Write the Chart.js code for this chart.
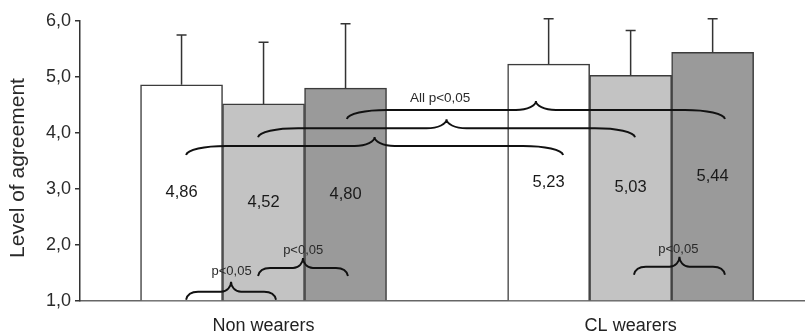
<!DOCTYPE html>
<html><head><meta charset="utf-8">
<script src="https://cdn.jsdelivr.net/npm/chart.js@4.4.0/dist/chart.umd.min.js"></script>
<style>html,body{margin:0;padding:0;background:#fff;overflow:hidden}#wrap{width:805px;height:333px;position:relative}</style>
</head><body><div id="wrap"><canvas id="c" width="805" height="333"></canvas></div>
<script>
// ---- data ----
const categories = ['Non wearers', 'CL wearers'];
const seriesA = [4.86, 5.23];
const seriesB = [4.52, 5.03];
const seriesC = [4.80, 5.44];
const errA = [0.89, 0.81];
const errB = [1.10, 0.80];
const errC = [1.15, 0.60];
const labelsA = ['4,86', '5,23'];
const labelsB = ['4,52', '5,03'];
const labelsC = ['4,80', '5,44'];
const yTicks = [1, 2, 3, 4, 5, 6];
const yTickLabels = ['1,0', '2,0', '3,0', '4,0', '5,0', '6,0'];
const yTitle = 'Level of agreement';
// significance braces: [x from, x to, level, kind]
const braces = [
  [-0.211, 0.034, 1.166, 'small'],
  [-0.015, 0.230, 1.589, 'small'],
  [1.009, 1.257, 1.612, 'small'],
  [-0.211, 0.816, 3.768, 'big'],
  [-0.015, 1.012, 4.084, 'big'],
  [0.227, 1.257, 4.411, 'big']
];
// significance texts: [text, x, level, size]
const sigTexts = [
  ['p<0,05', -0.087, 1.523, 13],
  ['p<0,05', 0.108, 1.911, 13],
  ['p<0,05', 1.130, 1.929, 13],
  ['All p<0,05', 0.481, 4.625, 13.5]
];

const FONT = '"Liberation Sans", Arial, Helvetica, sans-serif';
const series = [seriesA, seriesB, seriesC];
const errs = [errA, errB, errC];
const valueLabels = [labelsA, labelsB, labelsC];
const fills = ['#ffffff', '#c3c3c3', '#9a9a9a'];

function drawBrace(ctx, x1, x2, y, kind) {
  const big = kind === 'big';
  const d = big ? 9 : 8;     // end drop
  const r = big ? 9 : 10;    // peak rise
  const cw = big ? 40 : 12;  // end curl width
  const pw = big ? 20 : 10;  // peak half width
  const xm = (x1 + x2) / 2;
  ctx.beginPath();
  ctx.moveTo(x1, y + d);
  ctx.bezierCurveTo(x1 + 1, y + d * 0.4, x1 + cw * 0.45, y, x1 + cw, y);
  ctx.lineTo(xm - pw, y);
  ctx.bezierCurveTo(xm - pw * 0.4, y, xm, y - r * 0.5, xm, y - r);
  ctx.bezierCurveTo(xm, y - r * 0.5, xm + pw * 0.4, y, xm + pw, y);
  ctx.lineTo(x2 - cw, y);
  ctx.bezierCurveTo(x2 - cw * 0.45, y, x2 - 1, y + d * 0.4, x2, y + d);
  ctx.stroke();
}

const extras = {
  id: 'extras',
  afterDatasetsDraw(chart) {
    const ctx = chart.ctx;
    const xs = chart.scales.x, ys = chart.scales.y;
    ctx.save();
    // error bars
    ctx.strokeStyle = '#333';
    ctx.lineWidth = 1.5;
    series.forEach((s, k) => {
      const meta = chart.getDatasetMeta(k);
      meta.data.forEach((el, i) => {
        const yt = ys.getPixelForValue(s[i] + errs[k][i]);
        ctx.beginPath();
        ctx.moveTo(el.x, el.y);
        ctx.lineTo(el.x, yt);
        ctx.moveTo(el.x - 5, yt);
        ctx.lineTo(el.x + 5, yt);
        ctx.stroke();
      });
    });
    // value labels
    ctx.fillStyle = '#1a1a1a';
    ctx.font = '16.5px ' + FONT;
    ctx.textAlign = 'center';
    ctx.textBaseline = 'middle';
    series.forEach((s, k) => {
      const meta = chart.getDatasetMeta(k);
      meta.data.forEach((el, i) => {
        const c = el.getCenterPoint();
        ctx.fillText(valueLabels[k][i], c.x, c.y);
      });
    });
    // braces
    ctx.strokeStyle = '#111';
    ctx.lineWidth = 1.9;
    braces.forEach(b => {
      drawBrace(ctx, xs.getPixelForValue(b[0]), xs.getPixelForValue(b[1]), ys.getPixelForValue(b[2]), b[3]);
    });
    sigTexts.forEach(t => {
      ctx.font = t[3] + 'px ' + FONT;
      ctx.fillStyle = '#2a2a2a';
      ctx.fillText(t[0], xs.getPixelForValue(t[1]), ys.getPixelForValue(t[2]));
    });
    // y title
    ctx.translate(18.5, 168);
    ctx.rotate(-Math.PI / 2);
    ctx.font = '21px ' + FONT;
    ctx.fillStyle = '#2a2a2a';
    ctx.fillText(yTitle, 0, 0);
    ctx.restore();
  }
};

new Chart(document.getElementById('c'), {
  type: 'bar',
  data: {
    datasets: series.map((s, k) => ({
      data: s.map((v, i) => ({ x: i, y: v })),
      backgroundColor: fills[k],
      borderColor: '#3c3c3c',
      borderWidth: 1.5,
      barThickness: 82,
      base: 1
    }))
  },
  options: {
    responsive: false,
    animation: false,
    layout: { padding: { left: 0, right: 0, top: 21, bottom: 0 } },
    plugins: { legend: { display: false }, tooltip: { enabled: false } },
    scales: {
      x: {
        type: 'linear', min: -0.5, max: 1.475, offset: false,
        afterBuildTicks: s => { s.ticks = categories.map((c, i) => ({ value: i })); },
        ticks: {
          callback: v => categories[v] ?? '',
          color: '#222', font: { family: FONT, size: 18 }, padding: 14,
          autoSkip: false, maxRotation: 0
        },
        grid: { display: false, drawTicks: false },
        border: { display: true, color: '#666', width: 1.5 },
        afterFit: s => { s.height = 32; }
      },
      y: {
        min: 1, max: 6,
        afterBuildTicks: s => { s.ticks = yTicks.map(v => ({ value: v })); },
        ticks: {
          callback: v => yTickLabels[yTicks.indexOf(v)],
          color: '#2a2a2a', font: { family: FONT, size: 18 }, padding: 4
        },
        grid: { display: true, drawOnChartArea: false, drawTicks: true, tickLength: 5, color: '#333', lineWidth: 1.5 },
        border: { display: true, color: '#333', width: 1.5 },
        afterFit: s => { s.width = 80; }
      }
    }
  },
  plugins: [extras]
});
</script>
</body></html>
